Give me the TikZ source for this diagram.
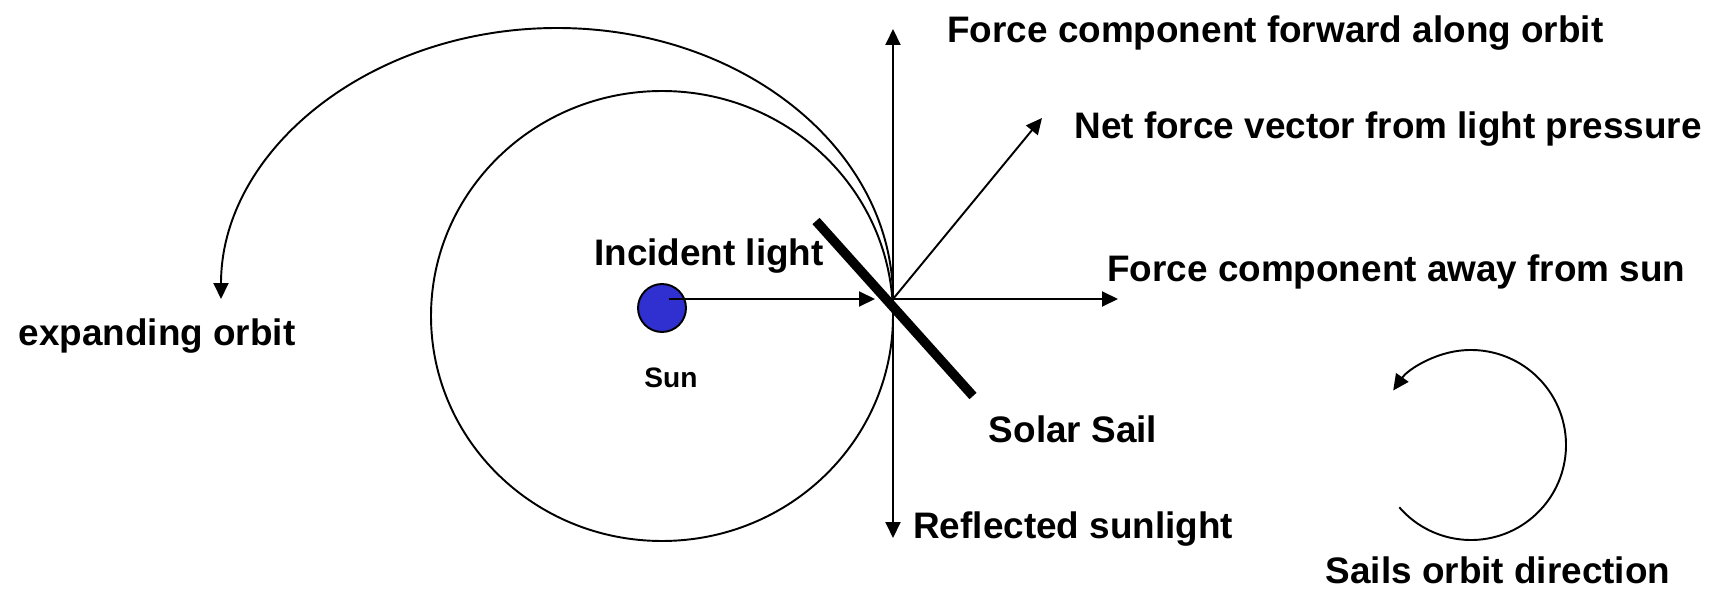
\documentclass[tikz,border=0pt]{standalone}
\usepackage{fontspec}
\setmainfont{Liberation Sans}
\usepackage{xcolor}
\usetikzlibrary{arrows.meta, positioning}

\definecolor{sunblue}{RGB}{48,48,208}

\begin{document}
\begin{tikzpicture}[
  x=0.02cm, y=0.02cm,
  thin line/.style={line width=1.1pt},
  arrow/.style={thin line, -{Triangle[length=0.32cm, width=0.3cm]}},
  lbl/.style={font=\bfseries\fontsize{21}{25}\selectfont, inner sep=0pt},
  small lbl/.style={font=\bfseries\fontsize{16}{19}\selectfont, inner sep=0pt},
  sail/.style={line width=0.19cm, black},
  sunball/.style={circle, draw, thin line, fill=sunblue, minimum size=0.96cm, inner sep=0pt}
]
  \useasboundingbox (0,0) rectangle (1715,589);

  % key points
  \coordinate (P) at (893,290);
  \coordinate (orbitc) at (662,273);
  \coordinate (fwdtip) at (893,560);
  \coordinate (refltip) at (893,51);
  \coordinate (nettip) at (1042,471);
  \coordinate (awaytip) at (1118,290);
  \coordinate (saila) at (816,368);
  \coordinate (sailb) at (973,193);
  \coordinate (dirc) at (1471,144);

  % orbits
  \draw[thin line] (orbitc) ellipse [x radius=231, y radius=225];
  \draw[arrow] (P) arc [start angle=0, end angle=180, x radius=336, y radius=271];

  % force components
  \draw[arrow] (P) -- (fwdtip);
  \draw[arrow] (P) -- (refltip);
  \draw[arrow] (P) -- (nettip);
  \draw[arrow] (P) -- (awaytip);

  % the sail
  \draw[sail] (saila) -- (sailb);

  % sun and incident light
  \node[sunball] (sun) at (662,281) {};
  \draw[arrow, shorten <=0.14cm, shorten >=0.36cm] (sun.center |- P) -- (P);

  % orbit direction
  \draw[arrow] (dirc) ++(221:95) arc [start angle=221, end angle=505, radius=95];

  % labels
  \node[lbl, anchor=west] (fwd) at (947,556) {Force component forward along orbit};
  \node[lbl, anchor=west] (net) at (1074,460) {Net force vector from light pressure};
  \node[lbl, anchor=west] (away) at (1107,317) {Force component away from sun};
  \node[lbl] (expand) at (157,253) {expanding orbit};
  \node[lbl] (incident) at (709,333) {Incident light};
  \node[small lbl] (sunlbl) at (671,211) {Sun};
  \node[lbl] (saillbl) at (1073,160) {Solar Sail};
  \node[lbl, anchor=west] (refl) at (913,60) {Reflected sunlight};
  \node[lbl] (dirlbl) at (1498,19) {Sails orbit direction};
\end{tikzpicture}
\end{document}
